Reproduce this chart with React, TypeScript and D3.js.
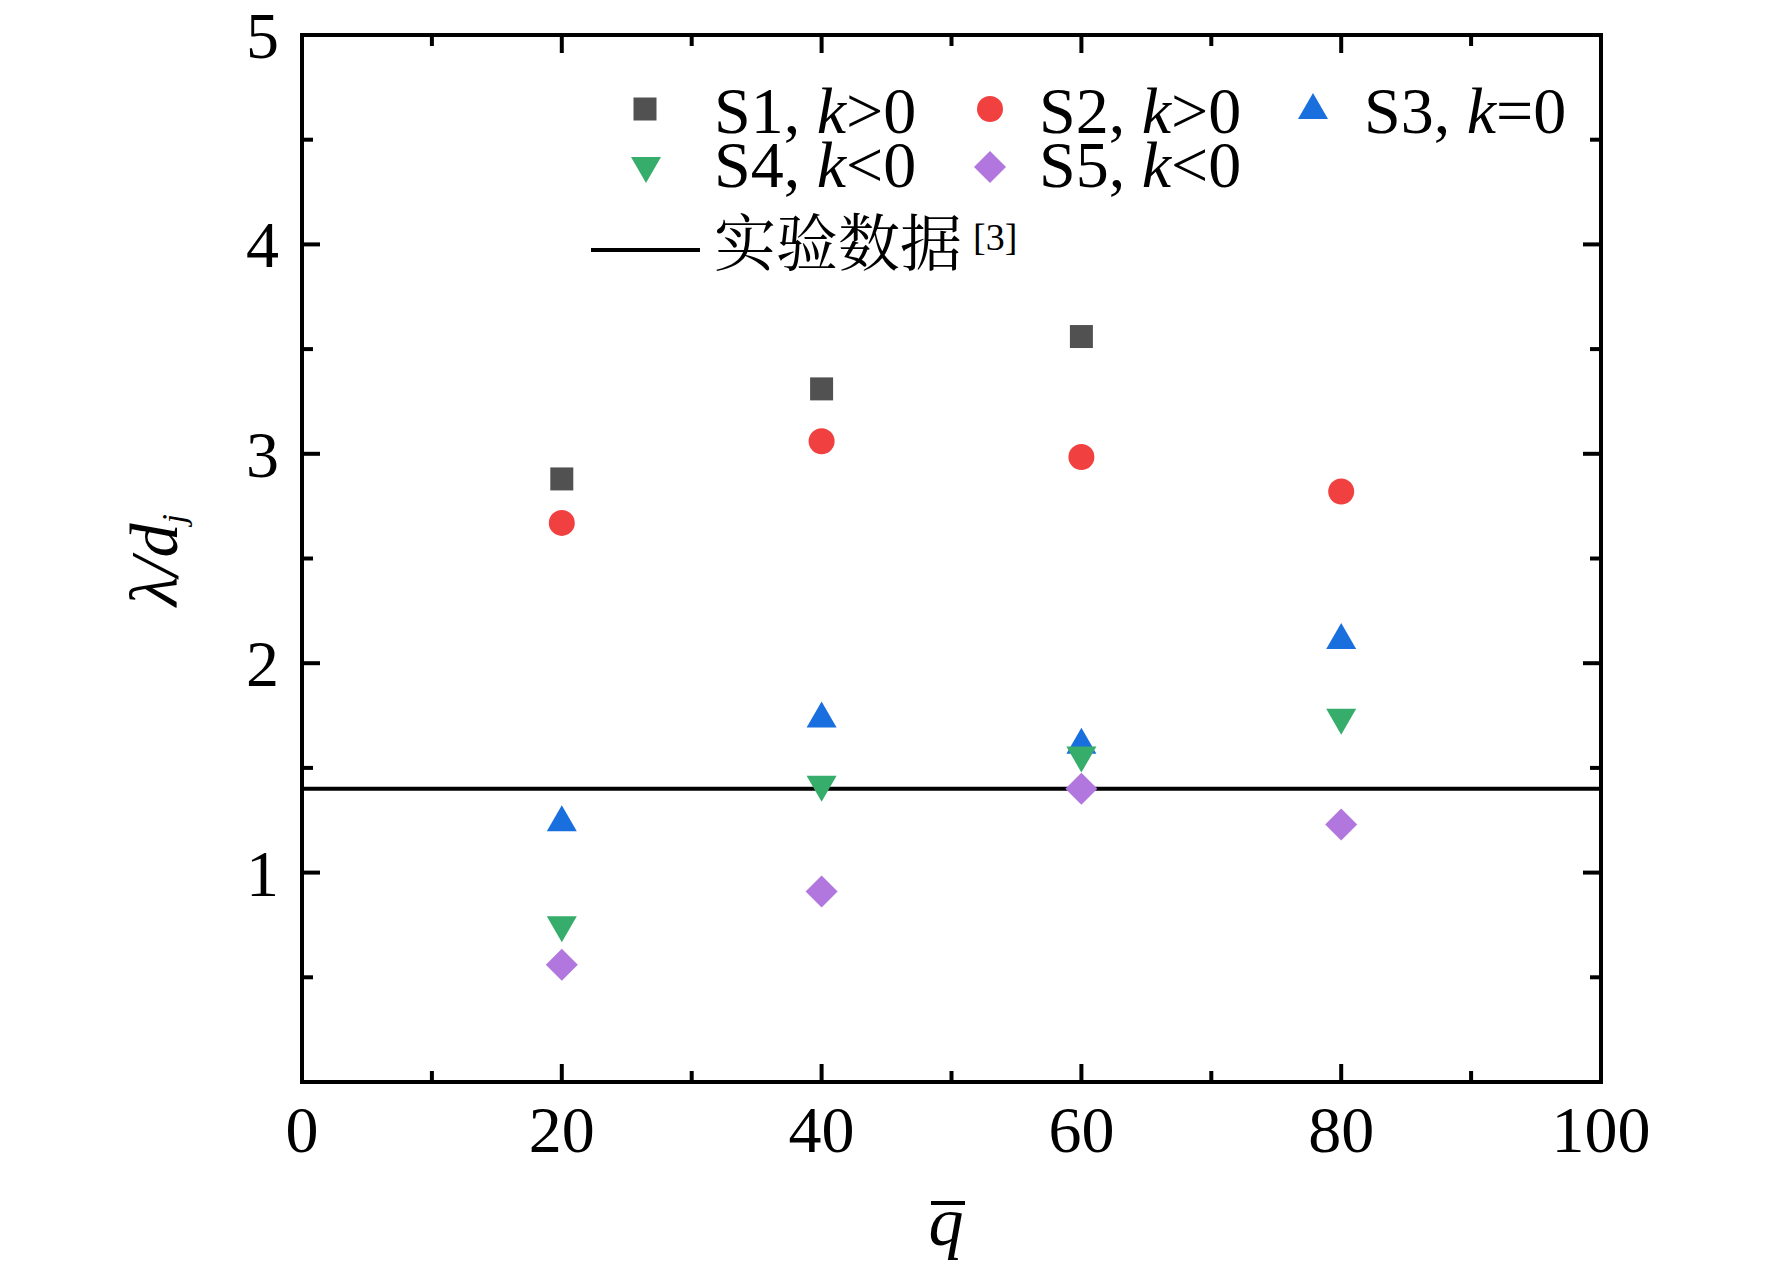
import React from "react";
import * as d3 from "d3";

const XS = [20, 40, 60, 80];
const S1 = [2.88, 3.31, 3.56];
const S2 = [2.67, 3.06, 2.985, 2.82];
const S3 = [1.26, 1.755, 1.63, 2.13];
const S4 = [0.73, 1.4, 1.54, 1.72];
const S5 = [0.56, 0.91, 1.4, 1.23];
const EXP = 1.4;

const X_TICKS = [0, 20, 40, 60, 80, 100];
const X_MINOR = [10, 30, 50, 70, 90];
const Y_TICKS = [1, 2, 3, 4, 5];
const Y_MINOR = [0.5, 1.5, 2.5, 3.5, 4.5];

const COLORS = {
  s1: "#515151",
  s2: "#F14040",
  s3: "#1A6FDF",
  s4: "#37AD6B",
  s5: "#B177DE",
};

const W = 1772;
const H = 1279;
const L = 302, R = 1601, T = 35, B = 1082;

const x = d3.scaleLinear().domain([0, 100]).range([L, R]);
const y = d3.scaleLinear().domain([0, 5]).range([B, T]);

type Shape = "square" | "circle" | "up" | "down" | "diamond";

function markerPath(shape: Shape, cx: number, cy: number): string {
  const p = d3.path();
  if (shape === "square") {
    const s = 23;
    p.rect(cx - s / 2, cy - s / 2, s, s);
  } else if (shape === "circle") {
    p.moveTo(cx + 13, cy);
    p.arc(cx, cy, 13, 0, Math.PI * 2);
  } else if (shape === "up") {
    const w = 30, h = 26;
    p.moveTo(cx, cy - h / 2);
    p.lineTo(cx + w / 2, cy + h / 2);
    p.lineTo(cx - w / 2, cy + h / 2);
    p.closePath();
  } else if (shape === "down") {
    const w = 30, h = 26;
    p.moveTo(cx, cy + h / 2);
    p.lineTo(cx + w / 2, cy - h / 2);
    p.lineTo(cx - w / 2, cy - h / 2);
    p.closePath();
  } else {
    const r = 16;
    p.moveTo(cx, cy - r);
    p.lineTo(cx + r, cy);
    p.lineTo(cx, cy + r);
    p.lineTo(cx - r, cy);
    p.closePath();
  }
  return p.toString();
}

const SERIES: { vals: number[]; shape: Shape; color: string }[] = [
  { vals: S1, shape: "square", color: COLORS.s1 },
  { vals: S2, shape: "circle", color: COLORS.s2 },
  { vals: S3, shape: "up", color: COLORS.s3 },
  { vals: S4, shape: "down", color: COLORS.s4 },
  { vals: S5, shape: "diamond", color: COLORS.s5 },
];

const SERIF = "'Liberation Serif', 'Times New Roman', serif";
const CJK = "'Noto Serif CJK SC', 'Noto Sans CJK SC', sans-serif";

export default function App() {
  const major = 18;
  const minor = 11;
  const sw = 4;

  const legendItems = [
    { shape: "square" as Shape, color: COLORS.s1, mx: 645, my: 109, tx: 714, ty: 133, label: "S1", rel: ">0" },
    { shape: "circle" as Shape, color: COLORS.s2, mx: 990, my: 109, tx: 1039, ty: 133, label: "S2", rel: ">0" },
    { shape: "up" as Shape, color: COLORS.s3, mx: 1313, my: 106, tx: 1364, ty: 133, label: "S3", rel: "=0" },
    { shape: "down" as Shape, color: COLORS.s4, mx: 646, my: 170, tx: 714, ty: 187, label: "S4", rel: "<0" },
    { shape: "diamond" as Shape, color: COLORS.s5, mx: 990, my: 167, tx: 1039, ty: 187, label: "S5", rel: "<0" },
  ];

  return (
    <svg width={W} height={H} style={{ position: "absolute", left: 0, top: 0, background: "#fff" }}>
      <rect x={0} y={0} width={W} height={H} fill="#fff" />
      {/* experimental line */}
      <line x1={L} x2={R} y1={y(EXP)} y2={y(EXP)} stroke="#000" strokeWidth={4} />

      {/* markers */}
      {SERIES.map((s, i) =>
        s.vals.map((v, j) => (
          <path key={`${i}-${j}`} d={markerPath(s.shape, x(XS[j]), y(v))} fill={s.color} />
        ))
      )}

      {/* ticks */}
      <g stroke="#000" strokeWidth={sw}>
        {X_TICKS.map((t) => (
          <g key={`xt${t}`}>
            <line x1={x(t)} x2={x(t)} y1={B} y2={B - major} />
            <line x1={x(t)} x2={x(t)} y1={T} y2={T + major} />
          </g>
        ))}
        {X_MINOR.map((t) => (
          <g key={`xm${t}`}>
            <line x1={x(t)} x2={x(t)} y1={B} y2={B - minor} />
            <line x1={x(t)} x2={x(t)} y1={T} y2={T + minor} />
          </g>
        ))}
        {Y_TICKS.map((t) => (
          <g key={`yt${t}`}>
            <line x1={L} x2={L + major} y1={y(t)} y2={y(t)} />
            <line x1={R} x2={R - major} y1={y(t)} y2={y(t)} />
          </g>
        ))}
        {Y_MINOR.map((t) => (
          <g key={`ym${t}`}>
            <line x1={L} x2={L + minor} y1={y(t)} y2={y(t)} />
            <line x1={R} x2={R - minor} y1={y(t)} y2={y(t)} />
          </g>
        ))}
      </g>

      {/* frame */}
      <rect x={L} y={T} width={R - L} height={B - T} fill="none" stroke="#000" strokeWidth={sw} />

      {/* tick labels */}
      <g fontFamily={SERIF} fontSize={66} fill="#000">
        {X_TICKS.map((t) => (
          <text key={`xl${t}`} x={x(t)} y={1152} textAnchor="middle">
            {t}
          </text>
        ))}
        {Y_TICKS.map((t) => (
          <text key={`yl${t}`} x={279} y={y(t) + 23} textAnchor="end">
            {t}
          </text>
        ))}
      </g>

      {/* axis titles */}
      <g fontFamily={SERIF} fill="#000">
        <text x={946} y={1245} fontSize={70} fontStyle="italic" textAnchor="middle">
          q
        </text>
        <line x1={931} x2={965} y1={1203} y2={1203} stroke="#000" strokeWidth={4} />
        <text transform="translate(177,560) rotate(-90)" fontSize={68} fontStyle="italic" textAnchor="middle">
          <tspan>λ/d</tspan>
          <tspan fontSize={34} dy={8}>j</tspan>
        </text>
      </g>

      {/* legend */}
      <g fontFamily={SERIF} fontSize={66} fill="#000">
        {legendItems.map((it, i) => (
          <g key={`lg${i}`}>
            <path d={markerPath(it.shape, it.mx, it.my)} fill={it.color} />
            <text x={it.tx} y={it.ty}>
              <tspan>{it.label}, </tspan>
              <tspan fontStyle="italic">k</tspan>
              <tspan>{it.rel}</tspan>
            </text>
          </g>
        ))}
        <line x1={591} x2={700} y1={250} y2={250} stroke="#000" strokeWidth={4} />
        <text x={714} y={266} fontFamily={CJK} fontSize={62}>
          实验数据
        </text>
        <text x={973} y={250} fontSize={38}>
          [3]
        </text>
      </g>
    </svg>
  );
}
